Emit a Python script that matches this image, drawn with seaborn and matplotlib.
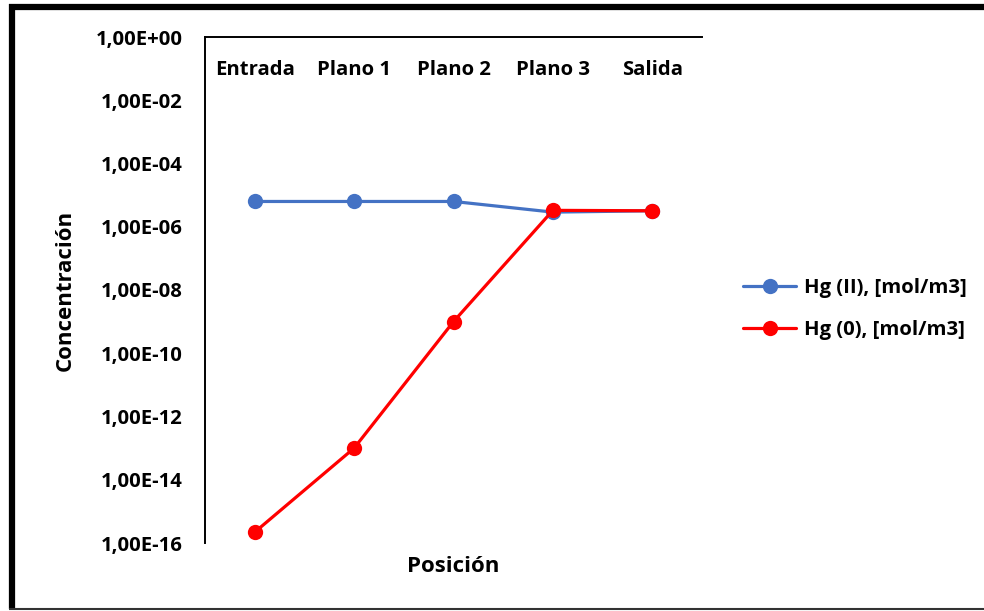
import matplotlib
matplotlib.use("Agg")
import matplotlib.pyplot as plt
from matplotlib.lines import Line2D
from matplotlib.ticker import FuncFormatter, FixedLocator, NullLocator
import seaborn as sns
import pandas as pd

# Data
positions = ["Entrada", "Plano 1", "Plano 2", "Plano 3", "Salida"]
hg_ii = [6.3e-6, 6.3e-6, 6.3e-6, 2.9e-6, 3.2e-6]
hg_0 = [2.2e-16, 1.0e-13, 1.0e-9, 3.3e-6, 3.2e-6]
series_names = ["Hg (II), [mol/m3]", "Hg (0), [mol/m3]"]
y_ticks = [1e0, 1e-2, 1e-4, 1e-6, 1e-8, 1e-10, 1e-12, 1e-14, 1e-16]

df = pd.DataFrame({
    "pos": list(range(len(positions))) * 2,
    "valor": hg_ii + hg_0,
    "serie": [series_names[0]] * len(positions) + [series_names[1]] * len(positions),
})

sns.set_theme(style="white")
plt.rcParams["font.family"] = ["Open Sans", "DejaVu Sans"]
plt.rcParams["font.weight"] = "bold"
plt.rcParams["text.color"] = "black"
plt.rcParams["xtick.color"] = "black"
plt.rcParams["ytick.color"] = "black"

fig = plt.figure(figsize=(9.84, 6.11), dpi=100)
ax = fig.add_axes([205 / 984, 1 - 543 / 611, (702 - 205) / 984, (543 - 37) / 611])

palette = {series_names[0]: "#4472C4", series_names[1]: "#FF0000"}
sns.lineplot(data=df, x="pos", y="valor", hue="serie", palette=palette,
             marker="o", markersize=11, markeredgewidth=0, linewidth=2.3,
             ax=ax, legend=False)

ax.set_yscale("log")
ax.set_ylim(1e-16, 1e0)
ax.set_xlim(-0.5, len(positions) - 0.5)
ax.yaxis.set_major_locator(FixedLocator(y_ticks))
ax.yaxis.set_minor_locator(NullLocator())


def sci_comma(v, _):
    s = f"{v:.2E}"
    return s.replace(".", ",")


ax.yaxis.set_major_formatter(FuncFormatter(sci_comma))
ax.set_xticks(range(len(positions)))
ax.set_xticklabels(positions)
tick_size = 14.6
ax.tick_params(axis="x", top=True, labeltop=True, bottom=False, labelbottom=False,
               length=0, pad=-31, labelsize=tick_size, labelcolor="black")
ax.tick_params(axis="y", length=0, pad=16, labelsize=tick_size, labelcolor="black")
for lbl in ax.get_xticklabels() + ax.get_yticklabels():
    lbl.set_fontweight("bold")

for side in ["right", "bottom"]:
    ax.spines[side].set_visible(False)
for side in ["left", "top"]:
    ax.spines[side].set_color("black")
    ax.spines[side].set_linewidth(1.4)

ax.set_xlabel("")
ax.set_ylabel("")
fig.text(453 / 984, 1 - 566 / 611, "Posición", ha="center", va="center",
         fontsize=16, fontweight="bold", color="black")
fig.text(65 / 984, 1 - 290 / 611, "Concentración", ha="center", va="center",
         rotation=90, fontsize=16, fontweight="bold", color="black")

handles = [
    Line2D([0], [0], color=palette[series_names[0]], lw=2.3, marker="o",
           markersize=11, markeredgewidth=0),
    Line2D([0], [0], color=palette[series_names[1]], lw=2.3, marker="o",
           markersize=11, markeredgewidth=0),
]
leg = fig.legend(handles, series_names, loc="center left",
                 bbox_to_anchor=(725 / 984, 1 - 309 / 611), frameon=False,
                 prop={"size": tick_size, "weight": "bold"}, handlelength=2.6,
                 labelspacing=1.05, handletextpad=0.4)
for t in leg.get_texts():
    t.set_color("black")

# Frame around the chart area
fig.add_artist(Line2D([9 / 984, 1], [1 - 7 / 611, 1 - 7 / 611],
                      transform=fig.transFigure, color="black", lw=4.5,
                      solid_capstyle="butt"))
fig.add_artist(Line2D([12 / 984, 12 / 984], [1 - 4 / 611, 1 - 609 / 611],
                      transform=fig.transFigure, color="black", lw=4.5,
                      solid_capstyle="butt"))
fig.add_artist(Line2D([9 / 984, 1], [1 - 609 / 611, 1 - 609 / 611],
                      transform=fig.transFigure, color="#333333", lw=1.5,
                      solid_capstyle="butt"))

fig.savefig("out.png", dpi=100)
